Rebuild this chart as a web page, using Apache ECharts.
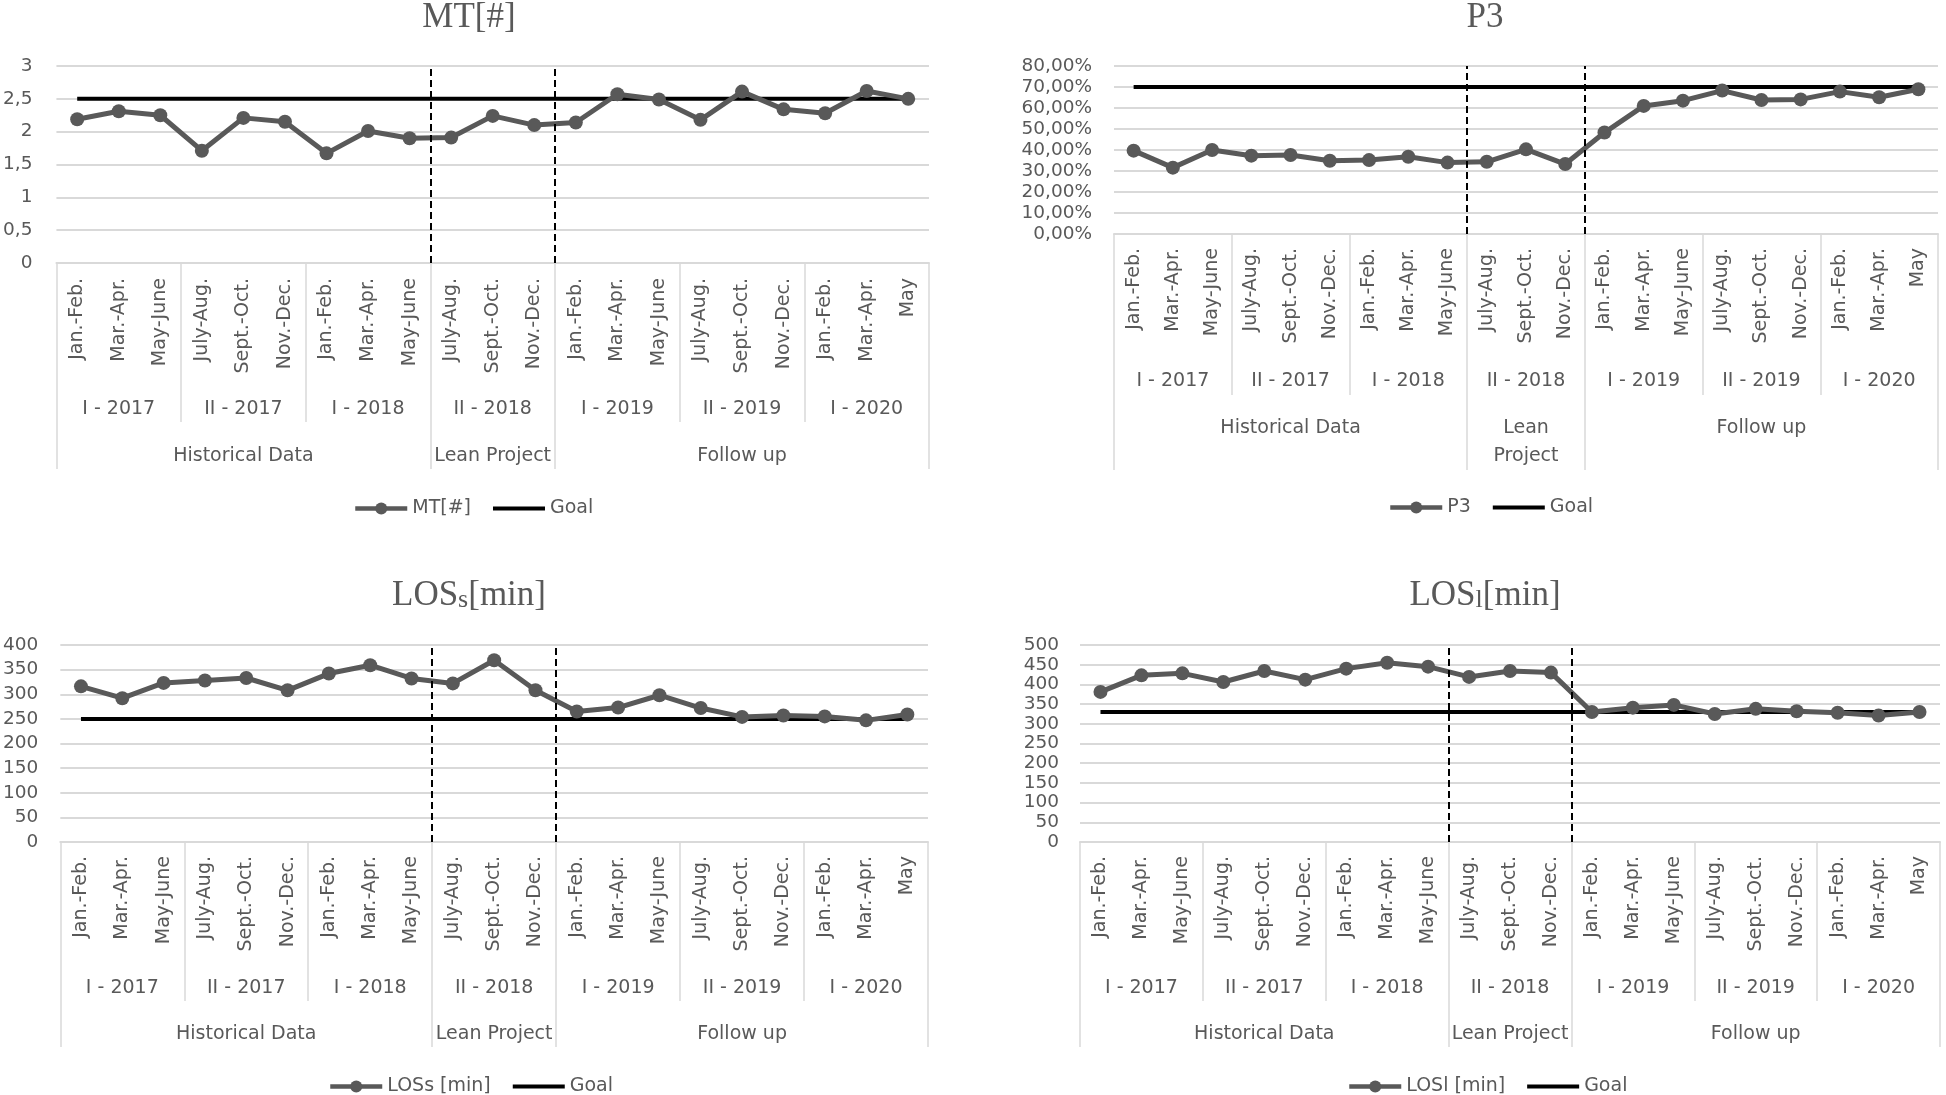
<!DOCTYPE html>
<html><head><meta charset="utf-8">
<script src="https://cdn.jsdelivr.net/npm/echarts@6/dist/echarts.min.js"></script>
<style>html,body{margin:0;padding:0;background:#fff}#c{width:1946px;height:1095px}</style>
</head><body><div id="c"></div>
<script>
// ---------- data ----------
const months = ['Jan.-Feb.','Mar.-Apr.','May-June','July-Aug.','Sept.-Oct.','Nov.-Dec.',
  'Jan.-Feb.','Mar.-Apr.','May-June','July-Aug.','Sept.-Oct.','Nov.-Dec.',
  'Jan.-Feb.','Mar.-Apr.','May-June','July-Aug.','Sept.-Oct.','Nov.-Dec.',
  'Jan.-Feb.','Mar.-Apr.','May'];
const yearGroups = ['I - 2017','II - 2017','I - 2018','II - 2018','I - 2019','II - 2019','I - 2020'];
const phaseNames = ['Historical Data','Lean Project','Follow up'];
const phaseSpans = [9,3,9];

const mtValues   = [2.19,2.31,2.25,1.71,2.21,2.15,1.67,2.01,1.90,1.91,2.24,2.10,2.14,2.57,2.49,2.18,2.61,2.34,2.28,2.62,2.50];
const p3Values   = [39.7,31.6,40.0,37.3,37.6,34.9,35.2,36.8,34.0,34.4,40.3,33.3,48.3,61.0,63.5,68.3,63.8,64.1,67.8,65.1,68.9];
const losSValues = [316,292,323,328,333,308,342,359,332,322,369,308,265,273,298,272,254,257,255,247,259];
const losLValues = [381,423,428,406,434,412,440,455,445,419,434,430,330,341,348,325,338,332,328,321,330];

const goalMT = 2.5, goalP3 = 70, goalLosS = 250, goalLosL = 330;

const mtTicks   = {min: 0, max: 3,   interval: 0.5};
const p3Ticks   = {min: 0, max: 80,  interval: 10};
const losSTicks = {min: 0, max: 400, interval: 50};
const losLTicks = {min: 0, max: 500, interval: 50};

// ---------- helpers ----------
const TXT = '#595959';
const GRIDC = '#d9d9d9';
const SANS = 'DejaVu Sans';
const SERIF = 'Liberation Serif';

const yearLabelAt = {};
yearGroups.forEach((g, i) => { yearLabelAt[i * 3 + 1] = g; });
const phaseLabelAt = {}, phaseStarts = [], phaseSpanAt = {};
let acc = 0;
phaseSpans.forEach((s, i) => {
  phaseStarts.push(acc);
  const c = acc + Math.floor(s / 2);
  phaseLabelAt[c] = phaseNames[i];
  phaseSpanAt[c] = s;
  acc += s;
});
const phaseBoundaries = phaseStarts.slice(1);

const panels = [
  {title: 'MT[#]', name: 'MT[#]', values: mtValues, goal: goalMT, ticks: mtTicks,
   fmt: v => String(v).replace('.', ','),
   grid: {left: 52, top: 66, width: 877, height: 197},
   titleX: 469, titleY: 0, legendX: 353, legendY: 499, yMargin: 24,
   shortTick: 159, tallTick: 206, monthMargin: 15, yearMargin: 134.5, phaseMargin: 179.5, wrap: false},
  {title: 'P3', name: 'P3', values: p3Values, goal: goalP3, ticks: p3Ticks,
   fmt: v => v.toFixed(2).replace('.', ',') + '%',
   grid: {left: 1114, top: 66, width: 824, height: 168},
   titleX: 1485, titleY: 0, legendX: 1388, legendY: 498, yMargin: 22,
   shortTick: 161, tallTick: 236, monthMargin: 14, yearMargin: 135.5, phaseMargin: 180.5, wrap: true},
  {title: '{a|LOS}{b|s}{a|[min]}', name: 'LOSs [min]', values: losSValues, goal: goalLosS, ticks: losSTicks,
   fmt: v => String(v),
   grid: {left: 57, top: 645, width: 871, height: 197},
   titleX: 469, titleY: 578, legendX: 328, legendY: 1077, yMargin: 22,
   shortTick: 159, tallTick: 205, monthMargin: 14, yearMargin: 134.5, phaseMargin: 178.5, wrap: false},
  {title: '{a|LOS}{b|l}{a|[min]}', name: 'LOSl [min]', values: losLValues, goal: goalLosL, ticks: losLTicks,
   fmt: v => String(v),
   grid: {left: 1080, top: 645, width: 860, height: 197},
   titleX: 1485, titleY: 578, legendX: 1347, legendY: 1077, yMargin: 21,
   shortTick: 159, tallTick: 205, monthMargin: 14, yearMargin: 134.5, phaseMargin: 178.5, wrap: false}
];

const option = {
  animation: false,
  backgroundColor: '#fff',
  title: [], legend: [], grid: [], xAxis: [], yAxis: [], series: []
};

panels.forEach((p, gi) => {
  option.grid.push(Object.assign({containLabel: false}, p.grid));
  option.title.push({
    text: p.title, left: p.titleX, top: p.titleY, textAlign: 'center', padding: 0,
    textStyle: {fontFamily: SERIF, fontSize: 35, fontWeight: 'normal', color: TXT, lineHeight: 35,
      rich: {
        a: {fontFamily: SERIF, fontSize: 35, color: TXT, verticalAlign: 'bottom'},
        b: {fontFamily: SERIF, fontSize: 26, color: TXT, verticalAlign: 'bottom'}
      }}
  });
  option.legend.push({
    left: p.legendX, top: p.legendY, padding: 0, itemGap: 22, itemWidth: 52, itemHeight: 15,
    textStyle: {fontFamily: SANS, fontSize: 19, color: TXT},
    lineStyle: {width: 4.5},
    selectedMode: false,
    data: [p.name, {name: 'Goal', icon: 'path://M0,0L56,0L56,4.2L0,4.2Z'}]
  });
  const yi = option.yAxis.length;
  option.yAxis.push({
    type: 'value', gridIndex: gi, min: p.ticks.min, max: p.ticks.max, interval: p.ticks.interval,
    axisLine: {show: false}, axisTick: {show: false},
    splitLine: {lineStyle: {color: GRIDC, width: 2}},
    axisLabel: {margin: p.yMargin, fontFamily: SANS, fontSize: 18.5, color: TXT, formatter: p.fmt}
  });
  const xi = option.xAxis.length;
  // main month axis (with year separators)
  option.xAxis.push({
    type: 'category', gridIndex: gi, position: 'bottom', data: months, boundaryGap: true,
    axisLine: {lineStyle: {color: GRIDC, width: 2}},
    axisTick: {show: true, length: p.shortTick, interval: i => i % 3 === 0, lineStyle: {color: GRIDC, width: 1.5}},
    axisLabel: {rotate: 90, interval: 0, margin: p.monthMargin, fontFamily: SANS, fontSize: 19, color: TXT}
  });
  // year-group axis
  option.xAxis.push({
    type: 'category', gridIndex: gi, position: 'bottom', data: months, boundaryGap: true,
    axisLine: {show: false}, axisTick: {show: false},
    axisLabel: {interval: i => yearLabelAt[i] !== undefined, margin: p.yearMargin,
      formatter: (v, i) => yearLabelAt[i] || '', fontFamily: SANS, fontSize: 19, lineHeight: 24, color: TXT}
  });
  // phase axis (with phase separators)
  option.xAxis.push({
    type: 'category', gridIndex: gi, position: 'bottom', data: months, boundaryGap: true,
    axisLine: {show: false},
    axisTick: {show: true, length: p.tallTick, interval: i => phaseStarts.indexOf(i) >= 0, lineStyle: {color: GRIDC, width: 1.5}},
    axisLabel: {interval: i => phaseLabelAt[i] !== undefined, margin: p.phaseMargin,
      formatter: (v, i) => {
        const t = phaseLabelAt[i] || '';
        return (p.wrap && phaseSpanAt[i] <= 3) ? t.replace(' ', '\n') : t;
      }, fontFamily: SANS, fontSize: 19, lineHeight: 28, color: TXT}
  });
  // hidden value axis for phase boundary lines
  const vi = option.xAxis.length;
  option.xAxis.push({type: 'value', gridIndex: gi, position: 'bottom', min: 0, max: months.length, show: false});

  option.series.push({
    type: 'line', name: 'Goal', xAxisIndex: xi, yAxisIndex: yi,
    data: months.map(() => p.goal), symbol: 'none', z: 2,
    lineStyle: {color: '#000', width: 4}, itemStyle: {color: '#000'}
  });
  option.series.push({
    type: 'line', name: p.name, xAxisIndex: xi, yAxisIndex: yi, data: p.values, z: 3,
    symbol: 'circle', symbolSize: 14, showAllSymbol: true,
    lineStyle: {color: '#595959', width: 5}, itemStyle: {color: '#595959'}
  });
  option.series.push({
    type: 'line', xAxisIndex: vi, yAxisIndex: yi, data: [], z: 5, silent: true,
    markLine: {silent: true, symbol: 'none', animation: false, label: {show: false},
      lineStyle: {type: [7, 4], color: '#000', width: 2},
      data: phaseBoundaries.map(b => ({xAxis: b}))}
  });
});

const chart = echarts.init(document.getElementById('c'), null, {renderer: 'canvas'});
chart.setOption(option);
</script>
</body></html>
